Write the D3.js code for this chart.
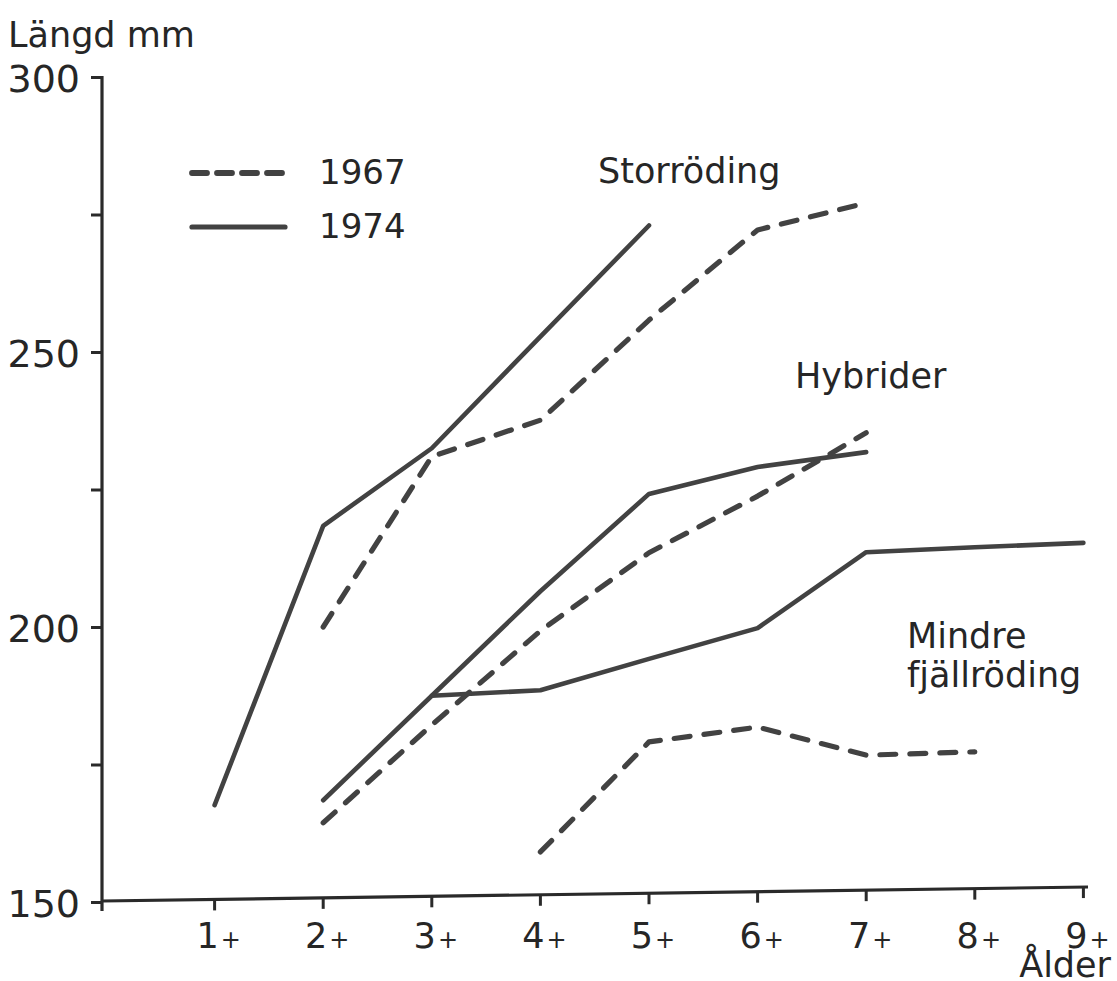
<!DOCTYPE html>
<html>
<head>
<meta charset="utf-8">
<script src="https://cdn.jsdelivr.net/npm/d3@7"></script>
<style>
  html, body { margin: 0; padding: 0; background: #ffffff; }
  svg { display: block; }
  text { font-family: "DejaVu Sans", sans-serif; fill: #262626; }
</style>
</head>
<body>
<svg id="chart" width="1117" height="981"></svg>
<script>
// ---- axis labels -------------------------------------------------------
const ageLabels = ["1", "2", "3", "4", "5", "6", "7", "8", "9"]; // each shown with a small "+"
const ageValues = [1, 2, 3, 4, 5, 6, 7, 8, 9];
const lengthTicks = [150, 175, 200, 225, 250, 275, 300];
const lengthLabels = [150, 200, 250, 300];
const years = ["1967", "1974"];

// ---- mean length (mm) by age -------------------------------------------
// Storröding
const storrAges1974 = [1, 2, 3, 4, 5];
const storrLen1974  = [167.6, 218.4, 232.5, 252.8, 273.0];
const storrAges1967 = [2, 3, 4, 5, 6, 7];
const storrLen1967  = [200.0, 231.0, 237.6, 255.8, 272.2, 277.1];
// Hybrider
const hybAges1974 = [2, 3, 4, 5, 6, 7];
const hybLen1974  = [168.5, 187.5, 206.5, 224.2, 229.1, 231.8];
const hybAges1967 = [2, 3, 4, 5, 6, 7];
const hybLen1967  = [164.4, 182.2, 199.3, 213.5, 223.8, 235.3];
// Mindre fjällröding
const mindreAges1974 = [3, 4, 5, 6, 7, 8, 9];
const mindreLen1974  = [187.5, 188.5, 194.2, 199.8, 213.6, 214.5, 215.3];
const mindreAges1967 = [4, 5, 6, 7, 8];
const mindreLen1967  = [159.1, 179.1, 181.8, 176.7, 177.3];

const series = [
  { year: "1974", ages: storrAges1974,  len: storrLen1974 },
  { year: "1967", ages: storrAges1967,  len: storrLen1967 },
  { year: "1974", ages: hybAges1974,    len: hybLen1974 },
  { year: "1967", ages: hybAges1967,    len: hybLen1967 },
  { year: "1974", ages: mindreAges1974, len: mindreLen1974 },
  { year: "1967", ages: mindreAges1967, len: mindreLen1967 }
];

// ---- drawing -------------------------------------------------------------
const svg = d3.select("#chart");
svg.append("rect").attr("width", 1117).attr("height", 981).attr("fill", "#ffffff");

const x = d3.scaleLinear().domain([0, 9]).range([106, 1083.4]);
const y = d3.scaleLinear().domain([150, 300]).range([902, 77]);

const inkAxis = "#2a2a2a";
const inkLine = "#424242";

const lineStyle = {
  "1967": { width: 5.2, dash: "16 14" },
  "1974": { width: 4.6, dash: null }
};

// y axis with ticks every 25 mm, labels every 50 mm
const yAxis = d3.axisLeft(y)
  .tickValues(lengthTicks)
  .tickSize(11)
  .tickSizeOuter(0)
  .tickPadding(11)
  .tickFormat(d => lengthLabels.includes(d) ? String(d) : "");

const gy = svg.append("g")
  .attr("transform", "translate(102,0)")
  .call(yAxis);
gy.select(".domain").remove();
gy.selectAll(".tick line").attr("stroke", inkAxis).attr("stroke-width", 3);
gy.selectAll(".tick text")
  .attr("font-family", "DejaVu Sans, sans-serif")
  .attr("font-size", 38)
  .attr("dy", "0.37em")
  .attr("fill", "#262626");
gy.append("line")
  .attr("x1", 0).attr("x2", 0)
  .attr("y1", y(300) - 1).attr("y2", y(150) + 9)
  .attr("stroke", inkAxis).attr("stroke-width", 3.2);

// x axis: the drawn baseline rises slightly towards the right
const xStart = 102, xEnd = 1088;
const base = d3.scaleLinear().domain([xStart, xEnd]).range([901, 887]);
const gx = svg.append("g");
gx.append("line")
  .attr("x1", xStart).attr("y1", base(xStart))
  .attr("x2", xEnd).attr("y2", base(xEnd))
  .attr("stroke", inkAxis).attr("stroke-width", 3.2);
gx.selectAll("line.tick")
  .data(ageValues)
  .join("line")
  .attr("class", "tick")
  .attr("x1", d => x(d)).attr("x2", d => x(d))
  .attr("y1", d => base(x(d)))
  .attr("y2", d => base(x(d)) + 11)
  .attr("stroke", inkAxis).attr("stroke-width", 3);
const tickText = gx.selectAll("text.age")
  .data(ageValues)
  .join("text")
  .attr("class", "age")
  .attr("x", d => x(d) + 4)
  .attr("y", 948)
  .attr("text-anchor", "middle");
tickText.append("tspan").attr("font-size", 35).text((d, i) => ageLabels[i]);
tickText.append("tspan").attr("font-size", 24).attr("dx", 2).text("+");

// axis titles
svg.append("text").attr("x", 8).attr("y", 47).attr("font-size", 35).text("Längd mm");
svg.append("text").attr("x", 1111).attr("y", 977).attr("text-anchor", "end")
  .attr("font-size", 35).text("Ålder");

// data lines
const line = d3.line()
  .x(d => x(d[0]))
  .y(d => y(d[1]));

svg.append("g")
  .selectAll("path")
  .data(series)
  .join("path")
  .attr("d", s => line(s.ages.map((a, i) => [a, s.len[i]])))
  .attr("fill", "none")
  .attr("stroke", inkLine)
  .attr("stroke-width", s => lineStyle[s.year].width)
  .attr("stroke-dasharray", s => lineStyle[s.year].dash)
  .attr("stroke-linecap", "round")
  .attr("stroke-linejoin", "round");

// legend
const legendRows = [
  { year: years[0], y: 173, dash: "15 10" },
  { year: years[1], y: 227, dash: null }
];
const lg = svg.append("g");
lg.selectAll("line")
  .data(legendRows)
  .join("line")
  .attr("x1", 192).attr("x2", 285)
  .attr("y1", d => d.y).attr("y2", d => d.y)
  .attr("stroke", inkLine)
  .attr("stroke-width", d => lineStyle[d.year].width + 0.6)
  .attr("stroke-dasharray", d => d.dash)
  .attr("stroke-linecap", "round");
lg.selectAll("text")
  .data(legendRows)
  .join("text")
  .attr("x", 319)
  .attr("y", d => d.y + 11)
  .attr("font-size", 34)
  .text(d => d.year);

// group names
const groupLabels = [
  { text: "Storröding", x: 598, y: 183 },
  { text: "Hybrider", x: 795, y: 388 },
  { text: "Mindre", x: 907, y: 648 },
  { text: "fjällröding", x: 907, y: 687 }
];
svg.append("g")
  .selectAll("text")
  .data(groupLabels)
  .join("text")
  .attr("x", d => d.x)
  .attr("y", d => d.y)
  .attr("font-size", 35)
  .text(d => d.text);
</script>
</body>
</html>
